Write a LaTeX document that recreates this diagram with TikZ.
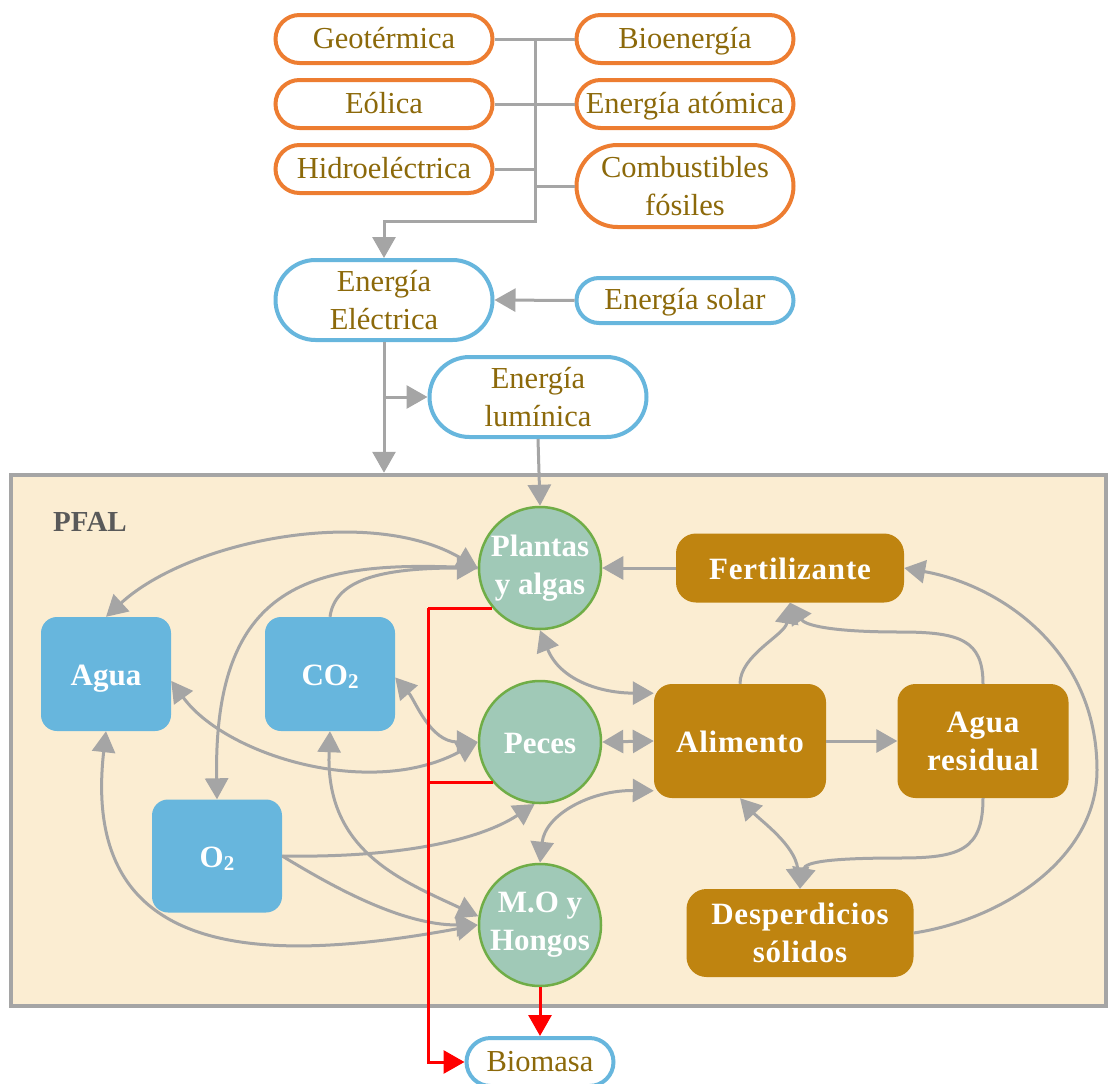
\documentclass[tikz,border=0pt]{standalone}
\usepackage{fontspec}
\setmainfont{Liberation Serif}
\usetikzlibrary{arrows.meta,shapes.misc}
\definecolor{orng}{HTML}{ED7D31}
\definecolor{blu}{HTML}{67B6DD}
\definecolor{olv}{RGB}{140,105,10}
\definecolor{brn}{HTML}{BF8410}
\definecolor{grnf}{HTML}{A0C9B7}
\definecolor{grnb}{HTML}{70AD47}
\definecolor{beige}{HTML}{FBEDD2}
\definecolor{gry}{HTML}{A5A5A5}
\definecolor{lbl}{HTML}{595959}
\tikzset{
  bigtri/.tip={Triangle[length=21pt,width=23pt]},
  srcbox/.style={rounded rectangle, draw=orng, line width=4pt, fill=white, text=olv,
    font=\fontsize{30.5}{38}\selectfont, align=center, minimum width=221pt, minimum height=48pt, inner sep=2pt},
  enbox/.style={srcbox, draw=blu},
  oneline/.style={text height=21pt, text depth=3pt},
  boldline/.style={text height=22pt, text depth=0pt},
  resbox/.style={rectangle, rounded corners=16pt, fill=blu, text=white,
    font=\bfseries\fontsize{31}{38}\selectfont, minimum width=130pt, minimum height=114pt, inner sep=0pt},
  orgcirc/.style={circle, fill=grnf, draw=grnb, line width=2.5pt, text=white,
    font=\bfseries\fontsize{31}{38}\selectfont, minimum size=122pt, inner sep=0pt, align=center},
  prodbox/.style={rectangle, rounded corners=20pt, fill=brn, text=white,
    font=\bfseries\fontsize{31}{38}\selectfont\addfontfeatures{LetterSpace=2.5}, align=center, inner sep=0pt},
  gl/.style={draw=gry, line width=3pt},
  ga/.style={gl, -bigtri},
  gb/.style={gl, bigtri-bigtri},
  rl/.style={draw=red, line width=3pt},
  ra/.style={rl, -bigtri},
}
\newcommand{\subtwo}{\raisebox{-3pt}{\fontsize{21}{21}\selectfont 2}}
\begin{document}
\begin{tikzpicture}[x=1pt, y=-1pt]
\useasboundingbox (0,0) rectangle (1109,1084);
% PFAL container
\node[draw=gry, fill=beige, line width=4.5pt, minimum width=1095pt, minimum height=531pt, inner sep=0pt] (pfal) at (558.5,740.5) {};
\node[font=\bfseries\fontsize{29}{34}\selectfont, text=lbl] (pfallbl) at (90,522) {PFAL};
% energy sources
\node[srcbox, oneline] (geo) at (384,39) {Geotérmica};
\node[srcbox, oneline] (bio) at (685,39) {Bioenergía};
\node[srcbox, oneline] (eol) at (384,104) {Eólica};
\node[srcbox, oneline] (atom) at (685,104) {Energía atómica};
\node[srcbox, oneline] (hidro) at (384,169) {Hidroeléctrica};
\node[srcbox, minimum height=82pt] (comb) at (685,186) {Combustibles\\fósiles};
\node[enbox, minimum height=80pt] (eelec) at (384,300) {Energía\\Eléctrica};
\node[enbox, oneline, minimum height=45pt] (solar) at (685,300.5) {Energía solar};
\node[enbox, minimum height=80pt] (lum) at (538,397) {Energía\\lumínica};
% resources
\node[resbox, boldline] (agua) at (106,674) {Agua};
\node[resbox, boldline] (co2) at (330,674) {CO\subtwo};
\node[resbox, boldline, minimum height=113pt] (o2) at (217,856) {O\subtwo};
% organisms
\node[orgcirc] (plantas) at (540,568) {Plantas\\y algas};
\node[orgcirc, boldline] (peces) at (540,742) {Peces};
\node[orgcirc] (mo) at (540,925) {M.O y\\Hongos};
% products
\node[prodbox, boldline, minimum width=228pt, minimum height=69pt] (fert) at (790,568) {Fertilizante};
\node[prodbox, boldline, minimum width=172pt, minimum height=114pt, rounded corners=18pt] (alim) at (740,741) {Alimento};
\node[prodbox, minimum width=171pt, minimum height=114pt, rounded corners=18pt] (ares) at (983,741) {Agua\\residual};
\node[prodbox, minimum width=227pt, minimum height=88pt] (desp) at (800,933) {Desperdicios\\sólidos};
\node[enbox, oneline, minimum width=151pt, minimum height=48pt] (biomasa) at (540,1062) {Biomasa};
% top connectors
\coordinate (busb) at (535,221);
\draw[gl] (geo.east) -- (bio.west);
\draw[gl] (eol.east) -- (atom.west);
\draw[gl] (hidro.east) -- (hidro.east -| busb);
\draw[gl] (comb.west) -- (comb.west -| busb);
\draw[ga] (geo.east -| busb) -- (busb) -| (eelec.north);
\draw[ga] (solar.west) -- (eelec.east);
\draw[ga] (eelec.south) -- (eelec.south |- pfal.north);
\draw[ga] (eelec.south |- lum.west) -- (lum.west);
\draw[ga] (lum.south) -- (plantas.north);
% inner connectors
\draw[gb] (agua.north) .. controls (190,540) and (370,505) .. (plantas.west);
\draw[ga] (co2.north) .. controls (335,580) and (380,568) .. (plantas.west);
\draw[ga] (plantas.west) .. controls (320,560) and (213,575) .. (o2.north);
\draw[gb] (agua.-6) .. controls (225,755) and (370,800) .. (peces.west);
\draw[gb] (co2.-3) .. controls (415,700) and (430,742) .. (peces.west);
\draw[ga] (o2.east) .. controls (400,858) and (480,840) .. (peces.265);
\draw[ga] (o2.east) .. controls (330,885) and (400,925) .. (mo.west);
\draw[gb] (co2.south) .. controls (325,850) and (400,880) .. (mo.172);
\draw[gb] (agua.south) .. controls (80,960) and (260,965) .. (mo.west);
\draw[gb] (plantas.south) .. controls (560,680) and (600,693) .. (alim.151);
\draw[gb] (peces.east) -- (alim.west);
\draw[gb] (alim.210) .. controls (590,790) and (545,815) .. (mo.north);
\draw[ga] (fert.west) -- (plantas.east);
\draw[ga] (alim.north) .. controls (740,655) and (785,635) .. (fert.south);
\draw[ga] (ares.north) .. controls (983,640) and (960,632) .. (900,632) .. controls (830,632) and (805,625) .. (fert.south);
\draw[ga] (alim.east) -- (ares.west);
\draw[ga] (desp.east) .. controls (1000,920) and (1097,860) .. (1097,770) .. controls (1097,650) and (1000,585) .. (fert.east);
\draw[gb] (alim.south) .. controls (760,820) and (795,845) .. (desp.north);
\draw[ga] (ares.south) .. controls (983,850) and (960,858) .. (900,858) .. controls (830,858) and (805,862) .. (desp.north);
% biomass (red)
\coordinate (rbus) at (428,608);
\draw[rl] (plantas.220) -- (plantas.220 -| rbus);
\draw[rl] (peces.221) -- (peces.221 -| rbus);
\draw[ra] (plantas.220 -| rbus) -- (rbus |- biomasa.west) -- (biomasa.west);
\draw[ra] (mo.south) -- (biomasa.north);
\end{tikzpicture}
\end{document}
